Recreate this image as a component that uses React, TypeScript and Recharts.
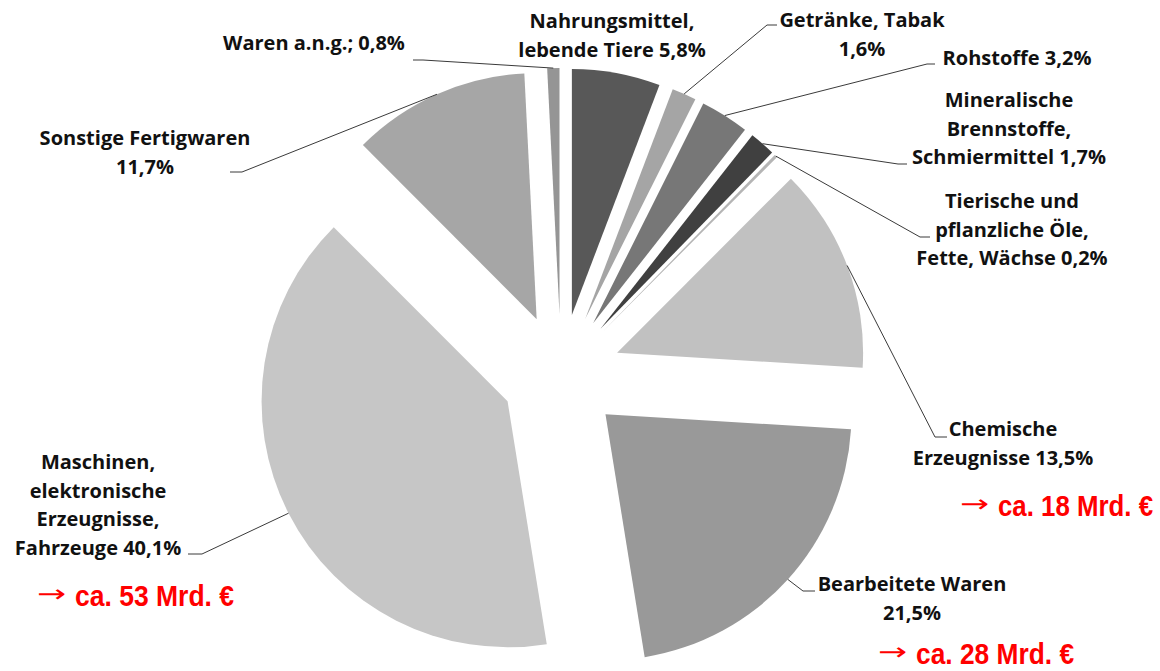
import React, { useLayoutEffect, useRef, useState } from 'react';
import { PieChart, Pie, Cell, Sector } from 'recharts';

// ---- data ----
const categories = [
  'Nahrungsmittel, lebende Tiere',
  'Getränke, Tabak',
  'Rohstoffe',
  'Mineralische Brennstoffe, Schmiermittel',
  'Tierische und pflanzliche Öle, Fette, Wächse',
  'Chemische Erzeugnisse',
  'Bearbeitete Waren',
  'Maschinen, elektronische Erzeugnisse, Fahrzeuge',
  'Sonstige Fertigwaren',
  'Waren a.n.g.',
];
const shares = [5.8, 1.6, 3.2, 1.7, 0.2, 13.5, 21.5, 40.1, 11.7, 0.8];
// label text lines; {p} is replaced by the formatted share
const labelLines: string[][] = [
  ['Nahrungsmittel,', 'lebende Tiere {p}'],
  ['Getränke, Tabak', '{p}'],
  ['Rohstoffe {p}'],
  ['Mineralische', 'Brennstoffe,', 'Schmiermittel {p}'],
  ['Tierische und', 'pflanzliche Öle,', 'Fette, Wächse {p}'],
  ['Chemische', 'Erzeugnisse {p}'],
  ['Bearbeitete Waren', '{p}'],
  ['Maschinen,', 'elektronische', 'Erzeugnisse,', 'Fahrzeuge {p}'],
  ['Sonstige Fertigwaren', '{p}'],
  ['Waren a.n.g.; {p}'],
];
const annotations = ['', '', '', '', '', 'ca. 18 Mrd. €', 'ca. 28 Mrd. €', 'ca. 53 Mrd. €', '', ''];

// ---- styles / layout ----
const colors = ['#585858', '#a5a5a5', '#777777', '#404040', '#b5b5b5', '#c1c1c1', '#999999', '#c6c6c6', '#a6a6a6', '#959595'];
const EXPLODE = 60;
const LINE_H = 28.5;
type Lay = { x: number; y: number; elbow?: [number, number]; end?: number };
const labelLayout: Lay[] = [
  { x: 612, y: 28 },
  { x: 862, y: 27, elbow: [767, 25], end: 777 },
  { x: 1017, y: 65, elbow: [927, 64], end: 935 },
  { x: 1009, y: 107, elbow: [898, 164], end: 907 },
  { x: 1012, y: 208, elbow: [920, 237], end: 930 },
  { x: 1003, y: 436, elbow: [935, 437], end: 947 },
  { x: 912, y: 591, elbow: [803, 591], end: 815 },
  { x: 98, y: 469, elbow: [202, 554], end: 188 },
  { x: 145, y: 145, elbow: [242, 172], end: 230 },
  { x: 314, y: 50, elbow: [423, 60], end: 413 },
];
const annotationLayout: ({ x: number; y: number; w: number } | null)[] = [
  null, null, null, null, null,
  { x: 960, y: 516, w: 193 },
  { x: 878, y: 664, w: 196 },
  { x: 37, y: 606, w: 197 },
  null, null,
];

const data = categories.map((name, i) => ({ name, value: shares[i] }));
const fmt = (v: number) => v.toFixed(1).replace('.', ',') + '%';

// Red annotation, horizontally condensed to a target width
function Annotation({ x, y, w, text }: { x: number; y: number; w: number; text: string }) {
  const ref = useRef<SVGTextElement>(null);
  const [sx, setSx] = useState(0.78);
  const target = w - 38;
  useLayoutEffect(() => {
    if (ref.current) {
      const natural = ref.current.getComputedTextLength();
      if (natural > 0) setSx(target / natural);
    }
  }, [target, text]);
  return (
    <g>
      <text
        transform={`translate(${x},${y - 4}) scale(1.45,1)`}
        fontFamily="'DejaVu Sans', sans-serif"
        fontWeight={400}
        fontSize={24}
        fill="#ff0000"
      >
        →
      </text>
      <text
        ref={ref}
        transform={`translate(${x + 38},${y}) scale(${sx},1)`}
        fontFamily="'Liberation Sans Narrow', 'Arial Narrow', 'Liberation Sans', sans-serif"
        fontWeight={700}
        fontSize={30}
        fill="#ff0000"
      >
        {text}
      </text>
    </g>
  );
}

const renderSlice = (props: any) => {
  const { cx, cy, outerRadius, startAngle, endAngle, index } = props;
  const mid = (startAngle + endAngle) / 2;
  const rad = (-mid * Math.PI) / 180;
  const ox = cx + EXPLODE * Math.cos(rad);
  const oy = cy + EXPLODE * Math.sin(rad);
  const ax = ox + outerRadius * Math.cos(rad);
  const ay = oy + outerRadius * Math.sin(rad);
  const lay = labelLayout[index];
  const lines = labelLines[index].map((l) => l.replace('{p}', fmt(shares[index])));
  const ann = annotationLayout[index];
  return (
    <g key={`slice-${index}`}>
      <Sector
        cx={ox}
        cy={oy}
        innerRadius={0}
        outerRadius={outerRadius}
        startAngle={startAngle}
        endAngle={endAngle}
        fill={colors[index]}
        stroke="none"
      />
      {lay.elbow && (
        <polyline
          points={`${ax},${ay} ${lay.elbow[0]},${lay.elbow[1]} ${lay.end},${lay.elbow[1]}`}
          fill="none"
          stroke="#3a3a3a"
          strokeWidth={1}
        />
      )}
      <text
        textAnchor="middle"
        fontFamily="'Open Sans', sans-serif"
        fontWeight={700}
        fontSize={20}
        fill="#111"
      >
        {lines.map((l, i) => (
          <tspan key={i} x={lay.x} y={lay.y + i * LINE_H}>
            {l}
          </tspan>
        ))}
      </text>
      {ann && <Annotation x={ann.x} y={ann.y} w={ann.w} text={annotations[index]} />}
    </g>
  );
};

export default function App() {
  return (
    <div style={{ position: 'absolute', left: 0, top: 0, width: 1160, height: 671, background: '#fff' }}>
      <PieChart width={1160} height={671} margin={{ top: 0, right: 0, bottom: 0, left: 0 }}>
        <Pie
          data={data}
          dataKey="value"
          nameKey="name"
          cx={561}
          cy={374}
          innerRadius={0}
          outerRadius={246}
          startAngle={90}
          endAngle={-270}
          stroke="none"
          isAnimationActive={false}
          labelLine={false}
          label={renderSlice}
        >
          {data.map((d) => (
            <Cell key={d.name} fill="none" />
          ))}
        </Pie>
      </PieChart>
    </div>
  );
}
